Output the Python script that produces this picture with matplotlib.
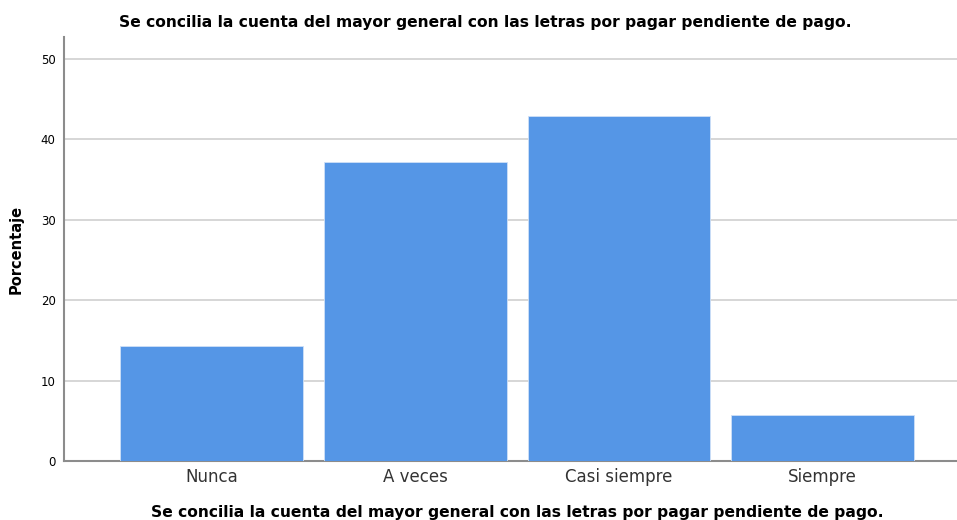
import matplotlib
matplotlib.use('Agg')
import matplotlib.pyplot as plt

categorias = ['Nunca', 'A veces', 'Casi siempre', 'Siempre']
porcentaje = [14.29, 37.14, 42.86, 5.71]
titulo = 'Se concilia la cuenta del mayor general con las letras por pagar pendiente de pago.'

plt.rcParams['font.family'] = ['DejaVu Sans']

fig = plt.figure(figsize=(9.57, 5.2), dpi=100)
ax = fig.add_axes([64 / 957, 59 / 520, 1 - 64 / 957, 424 / 520])

x = range(len(categorias))
ax.bar(x, porcentaje, width=0.897, color='#5596e6', edgecolor='#cfe0f7', linewidth=0.6, zorder=3)

ax.set_xlim(-0.723, 3.659)
ax.set_ylim(0, 52.7)
ax.set_yticks([0, 10, 20, 30, 40, 50])
ax.set_xticks(list(x))
ax.set_xticklabels(categorias, fontsize=12, color='#333333')
ax.tick_params(axis='y', labelsize=8.5, length=0, pad=6)
ax.tick_params(axis='x', length=0, pad=5)
ax.yaxis.grid(True, color='#d0d0d0', linewidth=1.2, zorder=0)

for s in ['top', 'right']:
    ax.spines[s].set_visible(False)
ax.spines['left'].set_color('#8c8c8c')
ax.spines['bottom'].set_color('#8c8c8c')
ax.spines['left'].set_linewidth(1.5)
ax.spines['bottom'].set_linewidth(1.5)

ax.set_ylabel('Porcentaje', fontsize=10.5, fontweight='bold')
ax.yaxis.set_label_coords(-40 / 893, 0.5)
ax.set_xlabel(titulo, fontsize=11.2, fontweight='bold')
ax.xaxis.set_label_coords((517 - 64) / 893, -44 / 424)
fig.text(485 / 957, 1 - 22 / 520, titulo, ha='center', va='center', fontsize=11.2, fontweight='bold')

fig.savefig('out.png', dpi=100)
